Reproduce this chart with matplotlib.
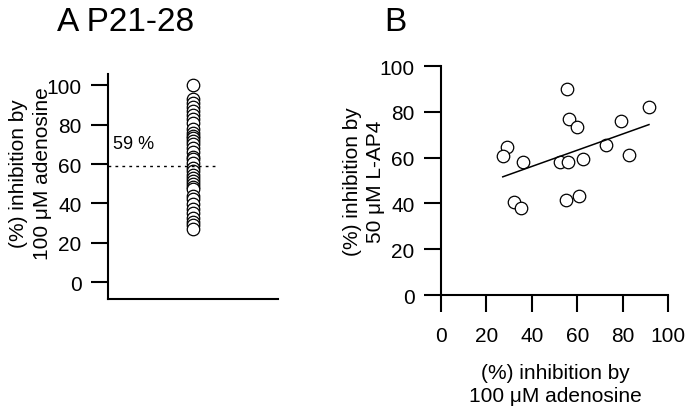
import numpy as np
import matplotlib
matplotlib.use('Agg')
import matplotlib.pyplot as plt

plt.rcParams['font.family'] = ['Liberation Sans', 'DejaVu Sans']

# panel A: % inhibition by 100 uM adenosine (P21-28)
adeno_A = [100, 92.9, 91.2, 89.2, 86.9, 84.8, 82.7, 80.7, 78.0, 76.0, 74.3,
           73.1, 71.7, 70.1, 68.4, 66.2, 63.8, 62.8, 60.8, 58.2, 56.5, 54.3,
           53.1, 51.4, 49.7, 48.6, 47.5, 43.8, 42.1, 39.6, 37.1, 35.0, 32.8,
           30.6, 28.9, 27.2]
mean_A = 59

# panel B: adenosine vs L-AP4
adeno_B = [55.4, 91.6, 56.4, 60.0, 79.2, 29.1, 27.2, 36.0, 52.4, 55.9, 62.6,
           72.7, 82.8, 32.3, 35.4, 55.1, 60.8]
lap4_B = [89.9, 82.3, 76.8, 73.6, 76.2, 64.8, 60.8, 58.3, 58.3, 58.3, 59.2,
          65.4, 61.0, 40.7, 38.2, 41.4, 43.3]

fig = plt.figure(figsize=(6.88, 4.14), dpi=100)

tick_kw = dict(direction='out', length=12, width=1.5, labelsize=15)

# ---- A ----
axA = fig.add_axes([0.157, 0.275, 0.247, 0.543])
axA.plot([0.5] * len(adeno_A), adeno_A, 'o', ms=9, mfc='white', mec='black', mew=0.9)
axA.plot([0, 0.65], [mean_A, mean_A], color='black', lw=1, ls=(0, (2, 3)))
axA.text(0.03, mean_A + 7, '%d %%' % mean_A, fontsize=13, va='bottom', ha='left')
axA.set_xlim(0, 1)
axA.set_ylim(-8.6, 105.6)
axA.set_yticks([0, 20, 40, 60, 80, 100])
axA.set_xticks([])
axA.spines['top'].set_visible(False)
axA.spines['right'].set_visible(False)
axA.spines['left'].set_linewidth(1.5)
axA.spines['bottom'].set_linewidth(1.5)
axA.tick_params(axis='y', pad=7, **tick_kw)
axA.set_ylabel('(%) inhibition by\n100 \u03bcM adenosine', fontsize=15,
               linespacing=1.3)
axA.yaxis.set_label_coords(-0.33, 0.565)
fig.text(0.083, 0.945, 'A P21-28', fontsize=24, va='center', ha='left')

# ---- B ----
axB = fig.add_axes([0.641, 0.285, 0.330, 0.553])
axB.plot(adeno_B, lap4_B, 'o', ms=9, mfc='white', mec='black', mew=0.9)
slope, icpt = np.polyfit(adeno_B, lap4_B, 1)
xf = np.array([min(adeno_B), max(adeno_B)])
axB.plot(xf, slope * xf + icpt, color='black', lw=1.1)
axB.set_xlim(0, 100)
axB.set_ylim(0, 100)
axB.set_xticks([0, 20, 40, 60, 80, 100])
axB.set_yticks([0, 20, 40, 60, 80, 100])
axB.spines['top'].set_visible(False)
axB.spines['right'].set_visible(False)
axB.spines['left'].set_linewidth(1.5)
axB.spines['bottom'].set_linewidth(1.5)
axB.tick_params(axis='x', pad=10, **tick_kw)
axB.tick_params(axis='y', pad=7, **tick_kw)
axB.set_xlabel('(%) inhibition by\n100 \u03bcM adenosine', fontsize=15,
               linespacing=1.3)
axB.xaxis.set_label_coords(0.502, -0.295)
axB.set_ylabel('(%) inhibition by\n50 \u03bcM L-AP4', fontsize=15,
               linespacing=1.3)
axB.yaxis.set_label_coords(-0.245, 0.5)
fig.text(0.559, 0.945, 'B', fontsize=24, va='center', ha='left')

fig.savefig('out.png', dpi=100)
